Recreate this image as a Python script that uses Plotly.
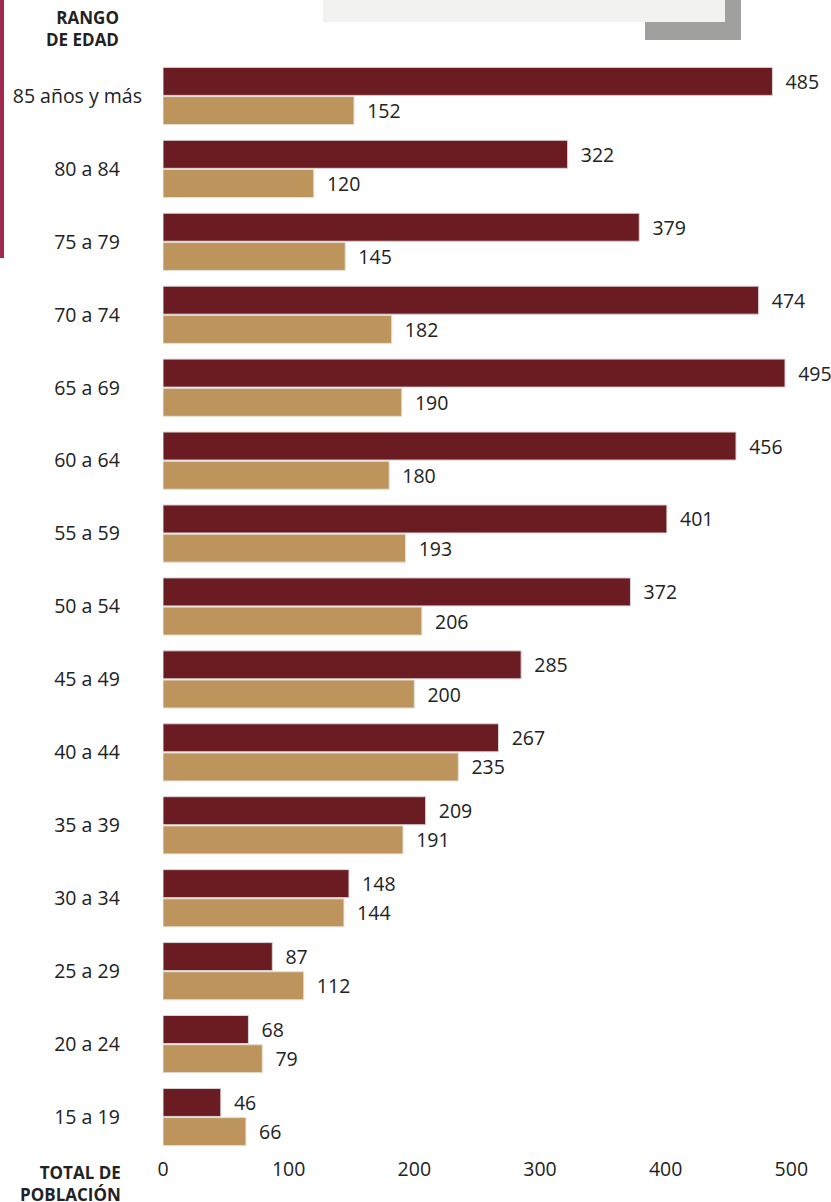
import plotly.graph_objects as go

categorias = ["85 años y más", "80 a 84", "75 a 79", "70 a 74", "65 a 69", "60 a 64",
              "55 a 59", "50 a 54", "45 a 49", "40 a 44", "35 a 39", "30 a 34",
              "25 a 29", "20 a 24", "15 a 19"]
serie_guinda = [485, 322, 379, 474, 495, 456, 401, 372, 285, 267, 209, 148, 87, 68, 46]
serie_dorado = [152, 120, 145, 182, 190, 180, 193, 206, 200, 235, 191, 144, 112, 79, 66]
ticks_x = [0, 100, 200, 300, 400, 500]

W, H = 831, 1202
FONT = "Open Sans"
FS = 19.5

# short labels sit a little further left than the long one in the reference
PAD = "\u00a0\u00a0\u00a0\u00a0\u200a"
etiquetas = [c if len(c) > 8 else c + PAD for c in categorias]

fig = go.Figure()
fig.add_trace(go.Bar(
    y=categorias, x=serie_guinda, orientation="h", name="Serie 1",
    marker=dict(color="#6A1C22", line=dict(color="#D9D4D4", width=1)),
    text=serie_guinda, texttemplate="\u00a0\u00a0%{x}", textposition="outside",
    textfont=dict(family=FONT, size=FS, color="#222222"), cliponaxis=False,
))
fig.add_trace(go.Bar(
    y=categorias, x=serie_dorado, orientation="h", name="Serie 2",
    marker=dict(color="#BD955C", line=dict(color="#E4DED6", width=1)),
    text=serie_dorado, texttemplate="\u00a0\u00a0%{x}", textposition="outside",
    textfont=dict(family=FONT, size=FS, color="#222222"), cliponaxis=False,
))

fig.update_layout(
    width=W, height=H,
    margin=dict(l=0, r=0, t=0, b=0, autoexpand=False),
    paper_bgcolor="white", plot_bgcolor="white",
    barmode="group", bargap=0.2, bargroupgap=0.04,
    showlegend=False,
    font=dict(family=FONT, size=FS, color="#222222"),
    xaxis=dict(domain=[163 / W, 791.3 / W], range=[0, 500], tickvals=ticks_x,
               showgrid=False, zeroline=False, showline=False, automargin=False,
               tickfont=dict(family=FONT, size=FS, color="#222222"),
               ticks="", ticklabelstandoff=2),
    yaxis=dict(domain=[(H - 1153.5) / H, (H - 59.5) / H], autorange="reversed",
               tickvals=categorias, ticktext=etiquetas,
               showgrid=False, zeroline=False, showline=False, ticks="", automargin=False,
               tickfont=dict(family=FONT, size=FS, color="#222222"),
               ticklabelstandoff=20),
)

shapes = [
    dict(type="rect", xref="paper", yref="paper", x0=645 / W, x1=741 / W,
         y0=1 - 40 / H, y1=1, fillcolor="#A0A09E", line=dict(width=0), layer="below"),
    dict(type="rect", xref="paper", yref="paper", x0=323 / W, x1=725 / W,
         y0=1 - 22 / H, y1=1, fillcolor="#F2F2F0", line=dict(width=0), layer="below"),
    dict(type="rect", xref="paper", yref="paper", x0=0, x1=4 / W,
         y0=1 - 258 / H, y1=1, fillcolor="#A0294F", line=dict(width=0), layer="below"),
]
fig.update_layout(shapes=shapes)

fig.add_annotation(text="<b>RANGO<br>DE EDAD</b>", xref="paper", yref="paper",
                   x=121 / W, y=1 - 4 / H, xanchor="right", yanchor="top", align="right",
                   showarrow=False, font=dict(family=FONT, size=17, color="#222222"))
fig.add_annotation(text="<b>TOTAL DE<br>POBLACIÓN</b>", xref="paper", yref="paper",
                   x=123 / W, y=1 - 1159 / H, xanchor="right", yanchor="top", align="right",
                   showarrow=False, font=dict(family=FONT, size=17, color="#222222"))

fig.write_html("out.html", config={"displayModeBar": False},
               post_script="document.body.style.margin='0';")
